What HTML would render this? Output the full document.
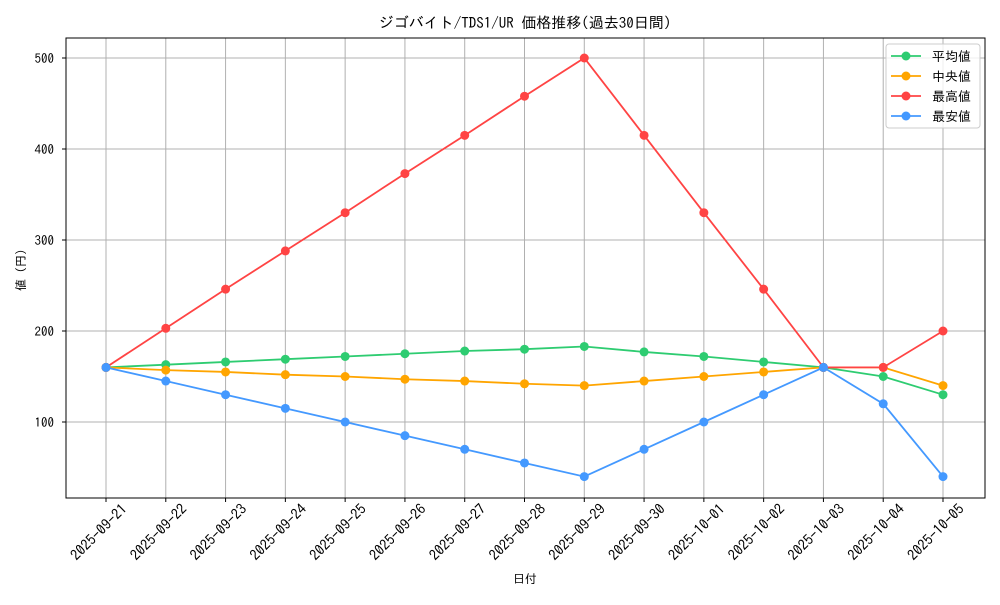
<!DOCTYPE html>
<html><head><meta charset="utf-8"><style>
body{margin:0;background:#fff;}
svg text{font-family:"IPAGothic","Liberation Sans","Noto Sans CJK JP",sans-serif;fill:#000;}
</style></head><body>
<svg id="chart" width="1000" height="600" xmlns="http://www.w3.org/2000/svg">
<text x="525" y="28" font-size="15" text-anchor="middle">ジゴバイト/TDS1/UR 価格推移(過去30日間)</text>
<g id="grid"></g><g id="axes"></g><g id="series"></g><g id="legend"></g>
<text x="525" y="583" font-size="12" text-anchor="middle">日付</text>
<text transform="translate(25,270) rotate(-90)" font-size="12" text-anchor="middle">値 (円)</text>
</svg>
<script>
const categories=["2025-09-21","2025-09-22","2025-09-23","2025-09-24","2025-09-25","2025-09-26","2025-09-27","2025-09-28","2025-09-29","2025-09-30","2025-10-01","2025-10-02","2025-10-03","2025-10-04","2025-10-05"];
const avgValues=[160,163,166,169,172,175,178,180,183,177,172,166,160,150,130];
const medianValues=[160,157,155,152,150,147,145,142,140,145,150,155,160,160,140];
const maxValues=[160,203,246,288,330,373,415,458,500,415,330,246,160,160,200];
const minValues=[160,145,130,115,100,85,70,55,40,70,100,130,160,120,40];
const yTicks=[100,200,300,400,500];
const seriesNames=["平均値","中央値","最高値","最安値"];
const NS="http://www.w3.org/2000/svg";
const L=66,R=985,T=38,B=498;
const x=i=>106+i*(943-106)/(categories.length-1);
const y=v=>513-v*0.91;
function mk(tag,attrs,parent){const e=document.createElementNS(NS,tag);for(const k in attrs)e.setAttribute(k,attrs[k]);parent.appendChild(e);return e;}
const grid=document.getElementById('grid'),axes=document.getElementById('axes'),ser=document.getElementById('series'),leg=document.getElementById('legend');
categories.forEach((c,i)=>{
 const g=mk('line',{x1:x(i),x2:x(i),y1:T,y2:B,stroke:'#b0b0b0','stroke-width':1},grid);
 
 
 mk('line',{x1:x(i),x2:x(i),y1:B,y2:B+4,stroke:'#000'},axes);
 const t=mk('text',{'font-size':14.5,'text-anchor':'end',transform:`translate(${x(i)+22},${B+12}) rotate(-45)`},axes);
 t.textContent=c;
 
 
});
yTicks.forEach(v=>{
 const g=mk('line',{x1:L,x2:R,y1:y(v),y2:y(v),stroke:'#b0b0b0','stroke-width':1},grid);
 
 
 mk('line',{x1:L-4,x2:L,y1:y(v),y2:y(v),stroke:'#000'},axes);
 const t=mk('text',{x:L-12,y:y(v)+5,'font-size':13,'text-anchor':'end'},axes);
 t.textContent=v;
 
 
});
const fr=mk('rect',{x:L,y:T,width:R-L,height:B-T,fill:'none',stroke:'#000','stroke-width':1},axes);


const series=[[avgValues,'#2ecc71'],[medianValues,'#ffa500'],[maxValues,'#ff4444'],[minValues,'#4499ff']];
series.forEach(([vals,col],si)=>{
 const g=mk('g',{},ser);
 
 
 mk('polyline',{points:vals.map((v,i)=>x(i)+','+y(v)).join(' '),fill:'none',stroke:col,'stroke-width':1.8},g);
 vals.forEach((v,i)=>{
  const c=mk('circle',{cx:x(i),cy:y(v),r:4.5,fill:col},g);
  
  
 });
 const ly=56+si*20;
 const le=mk('g',{},leg);
 
 
 mk('line',{x1:891,x2:921,y1:ly,y2:ly,stroke:col,'stroke-width':1.8},le);
 mk('circle',{cx:906,cy:ly,r:4.5,fill:col},le);
 const t=mk('text',{x:932,y:ly+5,'font-size':13},le);
 t.textContent=seriesNames[si];
});
const lb=mk('rect',{x:886,y:44,width:94,height:84,rx:3,fill:'#fff','fill-opacity':0.8,stroke:'#ccc'},leg);
leg.insertBefore(lb,leg.firstChild);


</script>
</body></html>
